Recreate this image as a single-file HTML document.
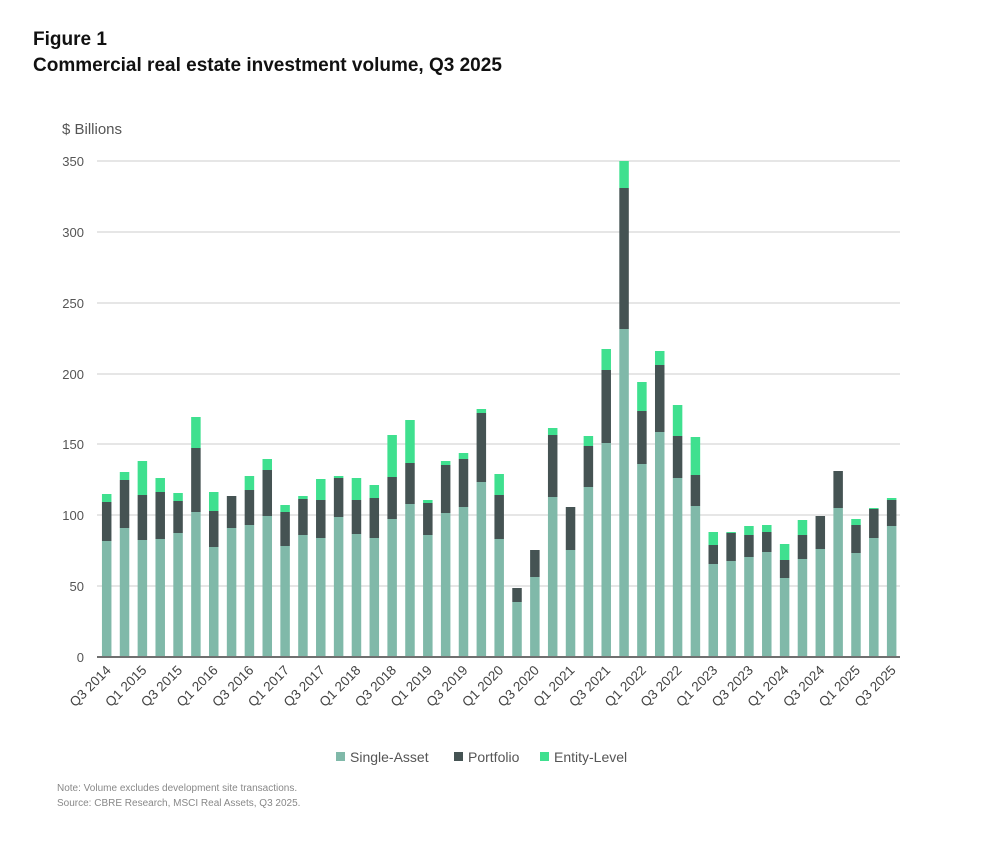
<!DOCTYPE html>
<html><head><meta charset="utf-8"><style>
body{margin:0;background:#fff;}
svg{display:block;font-family:"Liberation Sans",sans-serif;}
</style></head><body>
<svg width="1000" height="842" viewBox="0 0 1000 842" xmlns="http://www.w3.org/2000/svg">
<text x="33" y="45" font-size="19" font-weight="bold" fill="#111">Figure 1</text>
<text x="33" y="71" font-size="19" font-weight="bold" fill="#111">Commercial real estate investment volume, Q3 2025</text>
<text x="62" y="134" font-size="15" fill="#555">$ Billions</text>
<g stroke="#d6d6d6" stroke-width="1.3">
<line x1="97" y1="161" x2="900" y2="161"/><line x1="97" y1="232" x2="900" y2="232"/>
<line x1="97" y1="303" x2="900" y2="303"/><line x1="97" y1="374" x2="900" y2="374"/>
<line x1="97" y1="444" x2="900" y2="444"/><line x1="97" y1="515" x2="900" y2="515"/>
<line x1="97" y1="586" x2="900" y2="586"/>
</g>
<g font-size="13" fill="#555" text-anchor="end">
<text x="84" y="166">350</text><text x="84" y="237">300</text><text x="84" y="308">250</text>
<text x="84" y="379">200</text><text x="84" y="449">150</text><text x="84" y="520">100</text>
<text x="84" y="591">50</text><text x="84" y="662">0</text>
</g>
<g fill="#80b9a9">
<rect x="101.95" y="541" width="9.5" height="116"/><rect x="119.79" y="528" width="9.5" height="129"/><rect x="137.63" y="540" width="9.5" height="117"/><rect x="155.47" y="539" width="9.5" height="118"/><rect x="173.31" y="533" width="9.5" height="124"/><rect x="191.15" y="512" width="9.5" height="145"/><rect x="208.99" y="547" width="9.5" height="110"/><rect x="226.83" y="528" width="9.5" height="129"/><rect x="244.67" y="525" width="9.5" height="132"/><rect x="262.51" y="516" width="9.5" height="141"/><rect x="280.35" y="546" width="9.5" height="111"/><rect x="298.19" y="535" width="9.5" height="122"/><rect x="316.03" y="538" width="9.5" height="119"/><rect x="333.87" y="517" width="9.5" height="140"/><rect x="351.71" y="534" width="9.5" height="123"/><rect x="369.55" y="538" width="9.5" height="119"/><rect x="387.39" y="519" width="9.5" height="138"/><rect x="405.23" y="504" width="9.5" height="153"/><rect x="423.07" y="535" width="9.5" height="122"/><rect x="440.91" y="513" width="9.5" height="144"/><rect x="458.75" y="507" width="9.5" height="150"/><rect x="476.59" y="482" width="9.5" height="175"/><rect x="494.43" y="539" width="9.5" height="118"/><rect x="512.27" y="602" width="9.5" height="55"/><rect x="530.11" y="577" width="9.5" height="80"/><rect x="547.95" y="497" width="9.5" height="160"/><rect x="565.79" y="550" width="9.5" height="107"/><rect x="583.63" y="487" width="9.5" height="170"/><rect x="601.47" y="443" width="9.5" height="214"/><rect x="619.31" y="329" width="9.5" height="328"/><rect x="637.15" y="464" width="9.5" height="193"/><rect x="654.99" y="432" width="9.5" height="225"/><rect x="672.83" y="478" width="9.5" height="179"/><rect x="690.67" y="506" width="9.5" height="151"/><rect x="708.51" y="564" width="9.5" height="93"/><rect x="726.35" y="561" width="9.5" height="96"/><rect x="744.19" y="557" width="9.5" height="100"/><rect x="762.03" y="552" width="9.5" height="105"/><rect x="779.87" y="578" width="9.5" height="79"/><rect x="797.71" y="559" width="9.5" height="98"/><rect x="815.55" y="549" width="9.5" height="108"/><rect x="833.39" y="508" width="9.5" height="149"/><rect x="851.23" y="553" width="9.5" height="104"/><rect x="869.07" y="538" width="9.5" height="119"/><rect x="886.91" y="526" width="9.5" height="131"/>
</g>
<g fill="#455353">
<rect x="101.95" y="502" width="9.5" height="39"/><rect x="119.79" y="480" width="9.5" height="48"/><rect x="137.63" y="495" width="9.5" height="45"/><rect x="155.47" y="492" width="9.5" height="47"/><rect x="173.31" y="501" width="9.5" height="32"/><rect x="191.15" y="448" width="9.5" height="64"/><rect x="208.99" y="511" width="9.5" height="36"/><rect x="226.83" y="496" width="9.5" height="32"/><rect x="244.67" y="490" width="9.5" height="35"/><rect x="262.51" y="470" width="9.5" height="46"/><rect x="280.35" y="512" width="9.5" height="34"/><rect x="298.19" y="499" width="9.5" height="36"/><rect x="316.03" y="500" width="9.5" height="38"/><rect x="333.87" y="478" width="9.5" height="39"/><rect x="351.71" y="500" width="9.5" height="34"/><rect x="369.55" y="498" width="9.5" height="40"/><rect x="387.39" y="477" width="9.5" height="42"/><rect x="405.23" y="463" width="9.5" height="41"/><rect x="423.07" y="503" width="9.5" height="32"/><rect x="440.91" y="465" width="9.5" height="48"/><rect x="458.75" y="459" width="9.5" height="48"/><rect x="476.59" y="413" width="9.5" height="69"/><rect x="494.43" y="495" width="9.5" height="44"/><rect x="512.27" y="588" width="9.5" height="14"/><rect x="530.11" y="550" width="9.5" height="27"/><rect x="547.95" y="435" width="9.5" height="62"/><rect x="565.79" y="507" width="9.5" height="43"/><rect x="583.63" y="446" width="9.5" height="41"/><rect x="601.47" y="370" width="9.5" height="73"/><rect x="619.31" y="188" width="9.5" height="141"/><rect x="637.15" y="411" width="9.5" height="53"/><rect x="654.99" y="365" width="9.5" height="67"/><rect x="672.83" y="436" width="9.5" height="42"/><rect x="690.67" y="475" width="9.5" height="31"/><rect x="708.51" y="545" width="9.5" height="19"/><rect x="726.35" y="533" width="9.5" height="28"/><rect x="744.19" y="535" width="9.5" height="22"/><rect x="762.03" y="532" width="9.5" height="20"/><rect x="779.87" y="560" width="9.5" height="18"/><rect x="797.71" y="535" width="9.5" height="24"/><rect x="815.55" y="516" width="9.5" height="33"/><rect x="833.39" y="471" width="9.5" height="37"/><rect x="851.23" y="525" width="9.5" height="28"/><rect x="869.07" y="509" width="9.5" height="29"/><rect x="886.91" y="500" width="9.5" height="26"/>
</g>
<g fill="#3fe08f">
<rect x="101.95" y="494" width="9.5" height="8"/><rect x="119.79" y="472" width="9.5" height="8"/><rect x="137.63" y="461" width="9.5" height="34"/><rect x="155.47" y="478" width="9.5" height="14"/><rect x="173.31" y="493" width="9.5" height="8"/><rect x="191.15" y="417" width="9.5" height="31"/><rect x="208.99" y="492" width="9.5" height="19"/><rect x="244.67" y="476" width="9.5" height="14"/><rect x="262.51" y="459" width="9.5" height="11"/><rect x="280.35" y="505" width="9.5" height="7"/><rect x="298.19" y="496" width="9.5" height="3"/><rect x="316.03" y="479" width="9.5" height="21"/><rect x="333.87" y="476" width="9.5" height="2"/><rect x="351.71" y="478" width="9.5" height="22"/><rect x="369.55" y="485" width="9.5" height="13"/><rect x="387.39" y="435" width="9.5" height="42"/><rect x="405.23" y="420" width="9.5" height="43"/><rect x="423.07" y="500" width="9.5" height="3"/><rect x="440.91" y="461" width="9.5" height="4"/><rect x="458.75" y="453" width="9.5" height="6"/><rect x="476.59" y="409" width="9.5" height="4"/><rect x="494.43" y="474" width="9.5" height="21"/><rect x="547.95" y="428" width="9.5" height="7"/><rect x="583.63" y="436" width="9.5" height="10"/><rect x="601.47" y="349" width="9.5" height="21"/><rect x="619.31" y="161" width="9.5" height="27"/><rect x="637.15" y="382" width="9.5" height="29"/><rect x="654.99" y="351" width="9.5" height="14"/><rect x="672.83" y="405" width="9.5" height="31"/><rect x="690.67" y="437" width="9.5" height="38"/><rect x="708.51" y="532" width="9.5" height="13"/><rect x="726.35" y="532" width="9.5" height="1"/><rect x="744.19" y="526" width="9.5" height="9"/><rect x="762.03" y="525" width="9.5" height="7"/><rect x="779.87" y="544" width="9.5" height="16"/><rect x="797.71" y="520" width="9.5" height="15"/><rect x="851.23" y="519" width="9.5" height="6"/><rect x="869.07" y="508" width="9.5" height="1"/><rect x="886.91" y="498" width="9.5" height="2"/>
</g>
<line x1="97" y1="657" x2="900" y2="657" stroke="#707070" stroke-width="2"/>
<g font-size="13.5" fill="#444" text-anchor="end">
<text transform="translate(111.7,671) rotate(-45)">Q3 2014</text>
<text transform="translate(147.4,671) rotate(-45)">Q1 2015</text>
<text transform="translate(183.1,671) rotate(-45)">Q3 2015</text>
<text transform="translate(218.7,671) rotate(-45)">Q1 2016</text>
<text transform="translate(254.4,671) rotate(-45)">Q3 2016</text>
<text transform="translate(290.1,671) rotate(-45)">Q1 2017</text>
<text transform="translate(325.8,671) rotate(-45)">Q3 2017</text>
<text transform="translate(361.5,671) rotate(-45)">Q1 2018</text>
<text transform="translate(397.1,671) rotate(-45)">Q3 2018</text>
<text transform="translate(432.8,671) rotate(-45)">Q1 2019</text>
<text transform="translate(468.5,671) rotate(-45)">Q3 2019</text>
<text transform="translate(504.2,671) rotate(-45)">Q1 2020</text>
<text transform="translate(539.9,671) rotate(-45)">Q3 2020</text>
<text transform="translate(575.5,671) rotate(-45)">Q1 2021</text>
<text transform="translate(611.2,671) rotate(-45)">Q3 2021</text>
<text transform="translate(646.9,671) rotate(-45)">Q1 2022</text>
<text transform="translate(682.6,671) rotate(-45)">Q3 2022</text>
<text transform="translate(718.3,671) rotate(-45)">Q1 2023</text>
<text transform="translate(753.9,671) rotate(-45)">Q3 2023</text>
<text transform="translate(789.6,671) rotate(-45)">Q1 2024</text>
<text transform="translate(825.3,671) rotate(-45)">Q3 2024</text>
<text transform="translate(861.0,671) rotate(-45)">Q1 2025</text>
<text transform="translate(896.7,671) rotate(-45)">Q3 2025</text>
</g>
<rect x="336" y="752" width="9" height="9" fill="#80b9a9"/><text x="350" y="762" font-size="14" fill="#555">Single-Asset</text>
<rect x="454" y="752" width="9" height="9" fill="#455353"/><text x="468" y="762" font-size="14" fill="#555">Portfolio</text>
<rect x="540" y="752" width="9" height="9" fill="#3fe08f"/><text x="554" y="762" font-size="14" fill="#555">Entity-Level</text>
<text x="57" y="791" font-size="10" fill="#888">Note: Volume excludes development site transactions.</text>
<text x="57" y="806" font-size="10" fill="#888">Source: CBRE Research, MSCI Real Assets, Q3 2025.</text>
</svg>
</body></html>
